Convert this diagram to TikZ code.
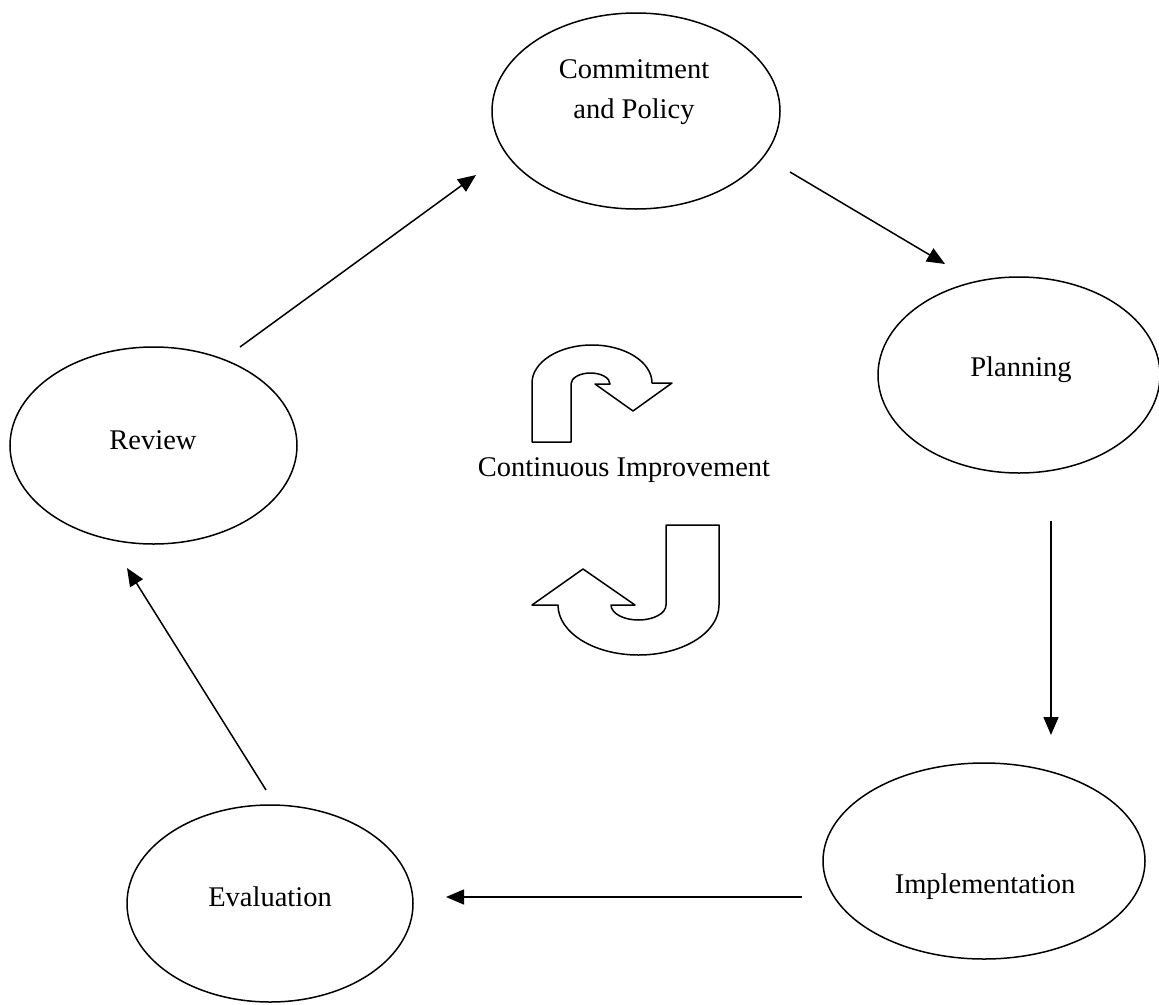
\documentclass[tikz,border=0pt]{standalone}
\usepackage{fontspec}
\setmainfont{Liberation Serif}
\usetikzlibrary{shapes.geometric,arrows.meta}
\begin{document}
\begin{tikzpicture}[x=1pt,y=1pt,
  stage/.style={draw,ellipse,line width=1.5pt,inner sep=0pt},
  lbl/.style={inner sep=0pt,align=center,font=\fontsize{28.5}{40}\selectfont},
  flow/.style={line width=1.5pt,-{Triangle[length=18pt,width=15pt]}},
  uturn/.style={draw,line width=1.5pt,line join=round}]
\useasboundingbox (0,0) rectangle (1159,-1004);
% stages
\node[stage,minimum width=288pt,minimum height=196pt] (commit) at (636,-111) {};
\node[stage,minimum width=282pt,minimum height=196pt] (plan) at (1019,-375) {};
\node[stage,minimum width=322pt,minimum height=196pt] (impl) at (984,-861) {};
\node[stage,minimum width=286pt,minimum height=197pt] (eval) at (270,-903.5) {};
\node[stage,minimum width=287pt,minimum height=197pt] (rev) at (153.5,-445.5) {};
% labels
\node[lbl] (commit-t) at (634,-92) {Commitment\\and Policy};
\node[lbl] (plan-t) at (1021,-370) {Planning};
\node[lbl] (impl-t) at (985,-887) {Implementation};
\node[lbl] (eval-t) at (270,-897) {Evaluation};
\node[lbl] (rev-t) at (153,-440) {Review};
\node[lbl] (ci) at (624,-470) {Continuous Improvement};
% connector ends
\coordinate (cp-s) at (790,-172);
\coordinate (cp-e) at (945,-264);
\coordinate (pi-s) at (1051,-521);
\coordinate (pi-e) at (1051,-735);
\coordinate (ie-s) at (802,-897);
\coordinate (ie-e) at (446,-897);
\coordinate (er-s) at (266,-790);
\coordinate (er-e) at (127,-568);
\coordinate (rc-s) at (240,-347);
\coordinate (rc-e) at (476,-175);
\draw[flow] (cp-s) -- (cp-e);
\draw[flow] (pi-s) -- (pi-e);
\draw[flow] (ie-s) -- (ie-e);
\draw[flow] (er-s) -- (er-e);
\draw[flow] (rc-s) -- (rc-e);
% U-turn arrows
\draw[uturn] (532,-442) -- (532,-383)
  arc[start angle=180,end angle=0,x radius=60,y radius=38]
  -- (672,-383) -- (633,-411) -- (595,-384) -- (610,-384)
  arc[start angle=0,end angle=180,x radius=19.5,y radius=11]
  -- (571,-442) -- cycle;
\draw[uturn] (666,-525) -- (719,-525) -- (719,-605)
  arc[start angle=0,end angle=-180,x radius=80.5,y radius=50]
  -- (532,-605) -- (583,-569) -- (635,-605) -- (611,-605)
  arc[start angle=180,end angle=360,x radius=27.5,y radius=15]
  -- cycle;
\end{tikzpicture}
\end{document}
